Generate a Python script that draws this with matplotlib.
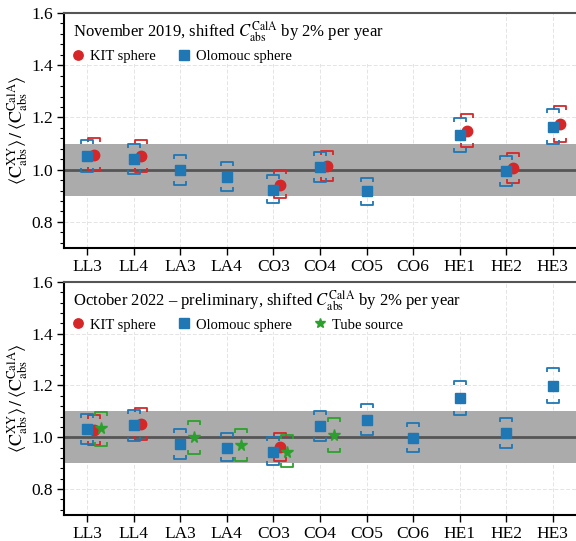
import numpy as np
import matplotlib
matplotlib.use("Agg")
import matplotlib.pyplot as plt
from matplotlib.path import Path
from matplotlib.patches import Rectangle
from matplotlib.ticker import MultipleLocator

plt.rcParams["font.family"] = ["Liberation Serif", "DejaVu Serif"]
plt.rcParams["mathtext.fontset"] = "stix"

labels = ["LL3", "LL4", "LA3", "LA4", "CO3", "CO4", "CO5", "CO6", "HE1", "HE2", "HE3"]
nan = np.nan

# November 2019
nov_olo = [1.054, 1.040, 0.997, 0.973, 0.924, 1.009, 0.918, nan, 1.132, 0.993, 1.163]
nov_olo_hi = [1.114, 1.099, 1.057, 1.028, 0.980, 1.067, 0.969, nan, 1.196, 1.051, 1.232]
nov_olo_lo = [0.992, 0.982, 0.943, 0.917, 0.872, 0.951, 0.865, nan, 1.067, 0.937, 1.097]
nov_kit = [1.057, 1.054, nan, nan, 0.943, 1.015, nan, nan, 1.149, 1.007, 1.176]
nov_kit_hi = [1.120, 1.114, nan, nan, 0.997, 1.073, nan, nan, 1.213, 1.063, 1.242]
nov_kit_lo = [0.995, 0.992, nan, nan, 0.893, 0.958, nan, nan, 1.085, 0.949, 1.106]

# October 2022
oct_olo = [1.031, 1.046, 0.974, 0.960, 0.944, 1.045, 1.067, 0.997, 1.150, 1.018, 1.198]
oct_olo_hi = [1.090, 1.105, 1.031, 1.016, 1.000, 1.103, 1.129, 1.055, 1.216, 1.076, 1.268]
oct_olo_lo = [0.974, 0.987, 0.917, 0.907, 0.892, 0.986, 1.010, 0.943, 1.086, 0.960, 1.131]
oct_kit = [1.028, 1.050, nan, nan, 0.961, nan, nan, nan, nan, nan, nan]
oct_kit_hi = [1.086, 1.113, nan, nan, 1.015, nan, nan, nan, nan, nan, nan]
oct_kit_lo = [0.971, 0.988, nan, nan, 0.908, nan, nan, nan, nan, nan, nan]
oct_tube = [1.036, nan, 1.002, 0.971, 0.944, 1.010, nan, nan, nan, nan, nan]
oct_tube_hi = [1.099, nan, 1.064, 1.033, 1.008, 1.076, nan, nan, nan, nan, nan]
oct_tube_lo = [0.967, nan, 0.936, 0.907, 0.885, 0.944, nan, nan, nan, nan, nan]

c_kit = "#d62728"
c_olo = "#1f77b4"
c_tube = "#2ca02c"

# bracket-shaped caps for the uncertainty bands
cap_top = Path([(-1, -0.7), (-1, 0), (1, 0), (1, -0.7)],
               [Path.MOVETO, Path.LINETO, Path.LINETO, Path.LINETO])
cap_bot = Path([(-1, 0.7), (-1, 0), (1, 0), (1, 0.7)],
               [Path.MOVETO, Path.LINETO, Path.LINETO, Path.LINETO])

x = np.arange(len(labels))


def draw_series(ax, off, vals, lo, hi, color, marker, ms, label):
    xs = x + off
    ax.plot(xs, hi, ls="none", marker=cap_top, ms=8, mfc="none", mec=color, mew=1.3, zorder=4)
    ax.plot(xs, lo, ls="none", marker=cap_bot, ms=8, mfc="none", mec=color, mew=1.3, zorder=4)
    ax.plot(xs, vals, ls="none", marker=marker, ms=ms, color=color, mec=color, zorder=5, label=label)


def style_axis(ax, title):
    ax.set_xlim(-0.5, len(labels) - 0.5)
    ax.set_ylim(0.7, 1.6)
    ax.axhspan(0.9, 1.1, color="#ababab", lw=0, zorder=1)
    ax.axhline(1.0, color="#555555", lw=2, zorder=2)
    ax.set_axisbelow(True)
    ax.grid(True, color="#e4e4e4", lw=0.7, ls=(0, (4, 2)))
    ax.add_patch(Rectangle((0, 0.784), 0.80, 0.216, transform=ax.transAxes,
                           facecolor="white", edgecolor="none", zorder=0.8))
    ax.set_xticks(x)
    ax.set_xticklabels(labels, fontsize=12.5)
    ax.yaxis.set_major_locator(MultipleLocator(0.2))
    ax.yaxis.set_minor_locator(MultipleLocator(0.04))
    ax.tick_params(axis="y", labelsize=12.5, length=5, width=1, pad=3)
    ax.tick_params(axis="y", which="minor", length=3, width=0.8)
    ax.tick_params(axis="x", length=5, width=1, pad=3)
    ax.spines["right"].set_visible(False)
    ax.spines["top"].set_color("#555555")
    ax.spines["top"].set_linewidth(1.5)
    ax.spines["left"].set_linewidth(1.5)
    ax.spines["bottom"].set_linewidth(1.5)
    ax.set_ylabel(r"$\langle \mathrm{C}^{\mathrm{XY}}_{\mathrm{abs}}\rangle\,/\,\langle \mathrm{C}^{\mathrm{CalA}}_{\mathrm{abs}}\rangle$",
                  fontsize=13, labelpad=1)
    ax.text(0.018, 0.918, title, transform=ax.transAxes, fontsize=12, va="center", ha="left", zorder=6)
    ax.legend(loc="upper left", bbox_to_anchor=(-0.008, 0.875), ncol=3, frameon=False,
              fontsize=10.5, handletextpad=0.1, columnspacing=1.15, borderaxespad=0.3,
              handlelength=1.5, borderpad=0.2, markerscale=0.9)


fig = plt.figure(figsize=(5.76, 5.41), dpi=100)
ax1 = fig.add_axes([0.111, 0.5416, 0.889, 0.4344])
ax2 = fig.add_axes([0.111, 0.048, 0.889, 0.431])

draw_series(ax1, 0.15, nov_kit, nov_kit_lo, nov_kit_hi, c_kit, "o", 7.5, "KIT sphere")
draw_series(ax1, 0.0, nov_olo, nov_olo_lo, nov_olo_hi, c_olo, "s", 7.5, "Olomouc sphere")
style_axis(ax1, r"November 2019, shifted $C_{\mathrm{abs}}^{\mathrm{CalA}}$ by 2% per year")

draw_series(ax2, 0.15, oct_kit, oct_kit_lo, oct_kit_hi, c_kit, "o", 7.5, "KIT sphere")
draw_series(ax2, 0.0, oct_olo, oct_olo_lo, oct_olo_hi, c_olo, "s", 7.5, "Olomouc sphere")
draw_series(ax2, 0.3, oct_tube, oct_tube_lo, oct_tube_hi, c_tube, "*", 8.5, "Tube source")
style_axis(ax2, r"October 2022 – preliminary, shifted $C_{\mathrm{abs}}^{\mathrm{CalA}}$ by 2% per year")

fig.savefig("out.png", dpi=100)
